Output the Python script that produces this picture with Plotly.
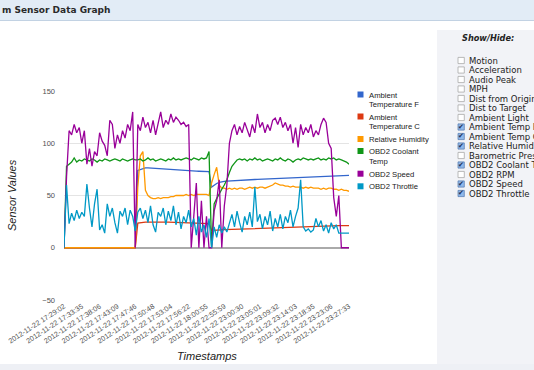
import plotly.graph_objects as go

# ---------------- data ----------------
tick_labels = [
    "2012-11-22 17:29:02", "2012-11-22 17:33:35", "2012-11-22 17:38:06",
    "2012-11-22 17:43:09", "2012-11-22 17:47:46", "2012-11-22 17:50:48",
    "2012-11-22 17:53:04", "2012-11-22 17:56:22", "2012-11-22 18:00:55",
    "2012-11-22 22:55:59", "2012-11-22 23:00:30", "2012-11-22 23:05:01",
    "2012-11-22 23:09:32", "2012-11-22 23:14:03", "2012-11-22 23:18:35",
    "2012-11-22 23:23:06", "2012-11-22 23:27:33",
]
label_step = 7

ambient_temp_f = [0] * 29 + [
    74, 75, 76, 76.5, 76.5, 76.3, 76, 75.8, 75.6, 75.4, 75.2, 75, 74.8, 74.6, 74.4,
    74.2, 74, 73.9, 73.8, 73.7, 73.6, 73.5, 73.4, 73.3, 73.2, 73.1, 73, 73, 72.9,
    58, 60, 61.5, 62.5, 63.2, 63.6, 63.8, 64, 64.1, 64.2, 64.3, 64.5, 64.6, 64.7,
    64.9, 65, 65.1, 65.3, 65.4, 65.5, 65.7, 65.8, 65.9, 66.1, 66.2, 66.3, 66.5,
    66.6, 66.7, 66.9, 67, 67.1, 67.2, 67.4, 67.5, 67.6, 67.7, 67.9, 68, 68.1, 68.2,
    68.3, 68.4, 68.5, 68.6, 68.7, 68.8, 68.8, 68.9, 69, 69, 69.1, 69.1, 69.2, 69.2,
]
ambient_temp_c = [0] * 29 + [
    23.5, 24, 24.3, 24.5, 24.6, 24.7, 24.8, 24.8, 24.8, 24.7, 24.7, 24.6, 24.5, 24.4,
    24.3, 24.2, 24.1, 24, 23.9, 23.8, 23.7, 23.6, 23.5, 23.4, 23.3, 23.2, 23.1, 23, 23,
    16.5, 16.8, 17, 17.1, 17.2, 17.3, 17.4, 17.5, 17.6, 17.7, 17.8, 17.9, 18, 18.1,
    18.2, 18.3, 18.4, 18.5, 18.6, 18.7, 18.8, 18.9, 19, 19.1, 19.2, 19.3, 19.4, 19.5,
    19.6, 19.7, 19.8, 19.9, 20, 20.1, 20.2, 20.3, 20.4, 20.5, 20.5, 20.6, 20.6, 20.7,
    20.7, 20.8, 20.8, 20.9, 20.9, 21, 21, 21, 21.1, 21.1, 21.1, 21.2, 21.2,
]
relative_humidity = [0] * 29 + [
    58, 88, 92, 55, 50, 48, 47, 47, 48, 47, 48, 48, 48, 49, 49, 50, 50, 50, 50, 51,
    50, 51, 50, 51, 51, 51, 51, 51, 50,
    62, 70, 77, 60, 57, 57, 56, 57, 56, 57, 56, 57, 57, 56, 57, 58, 57, 58, 57, 58,
    58, 57, 58, 59, 60, 62, 61, 60, 60, 59, 59, 58, 59, 58, 58, 58, 57, 58, 57, 58,
    57, 57, 57, 56, 57, 56, 57, 57, 56, 56, 55, 56, 55, 55, 54,
]
obd2_coolant_temp = [
    0, 78, 80, 82, 86, 82, 84, 83, 85, 84,
    83, 85, 84, 82, 84, 83, 85, 84, 83, 84,
    85, 84, 83, 85, 84, 83, 84, 85, 84, 84,
    85, 83, 84, 86, 84, 85, 83, 84, 85, 84,
    83, 85, 84, 86, 84, 85, 84, 85, 86, 85,
    84, 86, 85, 84, 86, 85, 86, 92, 0, 42,
    47, 52, 56, 60, 65, 72, 78, 81, 84, 85,
    84, 85, 83, 85, 84, 86, 84, 85, 83, 84,
    85, 84, 83, 85, 84, 86, 84, 83, 85, 84,
    82, 84, 85, 84, 86, 85, 84, 85, 84, 85,
    86, 84, 85, 84, 86, 85, 86, 84, 85, 84,
    83, 82, 80,
]
obd2_speed = [
    0, 68, 112, 108, 118, 110, 115, 100, 112, 80,
    95, 78, 92, 88, 110, 102, 98, 88, 122, 118,
    95, 108, 100, 112, 105, 118, 112, 130, 0, 118,
    112, 125, 115, 120, 110, 122, 108, 118, 130, 115,
    122, 118, 128, 120, 125, 122, 118, 120, 116, 118,
    0, 30, 62, 0, 45, 0, 30, 0, 0, 35,
    45, 65, 0, 40, 60, 100, 112, 118, 108, 116,
    110, 120, 112, 106, 118, 110, 128, 115, 120, 110,
    118, 112, 122, 124, 118, 125, 115, 120, 112, 118,
    100, 115, 96, 118, 108, 115, 110, 118, 106, 112,
    108, 118, 124, 120, 100, 95, 48, 30, 50, 0,
    0, 0, 0,
]
obd2_throttle = [
    0, 60, 23, 33, 26, 36, 28, 34, 30, 61,
    38, 20, 42, 56, 17, 22, 14, 42, 30, 38,
    24, 14, 35, 30, 38, 22, 36, 30, 16, 34,
    38, 28, 36, 24, 40, 22, 15, 34, 30, 38,
    22, 35, 26, 40, 22, 34, 18, 30, 24, 36,
    20, 28, 12, 30, 15, 22, 10, 28, 0, 20,
    10, 22, 14, 20, 15, 25, 32, 20, 35, 24,
    15, 30, 22, 34, 20, 58, 25, 32, 18, 30,
    22, 35, 16, 28, 20, 32, 18, 30, 24, 36,
    20, 30, 38, 65, 20, 16, 18, 15, 17, 28,
    20, 26, 16, 22, 14, 24, 18, 22, 14, 14,
    14, 14, 14,
]

series_names = ["Ambient Temperature F", "Ambient Temperature C", "Relative Humidity",
                "OBD2 Coolant Temp", "OBD2 Speed", "OBD2 Throttle"]
series_values = [ambient_temp_f, ambient_temp_c, relative_humidity,
                 obd2_coolant_temp, obd2_speed, obd2_throttle]
series_colors = ["#3366cc", "#dc3912", "#ff9900", "#109618", "#990099", "#0099c6"]

legend_lines = [["Ambient", "Temperature F"], ["Ambient", "Temperature C"],
                ["Relative Humidity"], ["OBD2 Coolant", "Temp"], ["OBD2 Speed"], ["OBD2 Throttle"]]

sidebar_items = ["Motion", "Acceleration", "Audio Peak", "MPH", "Dist from Origin",
                 "Dist to Target", "Ambient Light", "Ambient Temp F", "Ambient Temp C",
                 "Relative Humidity", "Barometric Pressure", "OBD2 Coolant Temp",
                 "OBD2 RPM", "OBD2 Speed", "OBD2 Throttle"]
sidebar_checked = [False, False, False, False, False, False, False, True, True, True,
                   False, True, False, True, True]

# ---------------- layout helpers ----------------
W, H = 534, 370
L, R, T, B = 64, 349, 91, 300


def px(x):
    return (x - L) / (R - L)


def py(y):
    return (B - y) / (B - T)


n = len(obd2_speed)
xs = list(range(n))

fig = go.Figure()
for name, vals, col in zip(series_names, series_values, series_colors):
    fig.add_trace(go.Scatter(x=xs, y=vals, mode="lines", name=name,
                             line=dict(color=col, width=1.3), showlegend=False))

shapes = []
annotations = []

# page chrome
shapes.append(dict(type="rect", xref="paper", yref="paper", x0=px(0), x1=px(W), y0=py(0), y1=py(20.5),
                   fillcolor="#e2ecf6", line=dict(width=0), layer="below"))
shapes.append(dict(type="line", xref="paper", yref="paper", x0=px(0), x1=px(W), y0=py(20.5), y1=py(20.5),
                   line=dict(color="#c2d2e3", width=1), layer="below"))
shapes.append(dict(type="rect", xref="paper", yref="paper", x0=px(437), x1=px(W), y0=py(30), y1=py(364),
                   fillcolor="#f2f3f7", line=dict(width=0), layer="below"))
shapes.append(dict(type="rect", xref="paper", yref="paper", x0=px(0), x1=px(W), y0=py(364), y1=py(H),
                   fillcolor="#eef0f5", line=dict(width=0), layer="below"))

annotations.append(dict(text="<b>m Sensor Data Graph</b>", x=px(0), y=py(10.5), xref="paper", yref="paper",
                        xanchor="left", yanchor="middle", showarrow=False,
                        font=dict(family="DejaVu Sans", size=9, color="#2a2a2a")))

# axis titles
annotations.append(dict(text="<i>Sensor Values</i>", x=px(12), y=py(195), xref="paper", yref="paper",
                        textangle=-90, showarrow=False, xanchor="center", yanchor="middle",
                        font=dict(family="Liberation Sans", size=11, color="#222")))
annotations.append(dict(text="<i>Timestamps</i>", x=px(207), y=py(356), xref="paper", yref="paper",
                        showarrow=False, xanchor="center", yanchor="middle",
                        font=dict(family="Liberation Sans", size=11, color="#222")))

# legend (Google-chart style)
leg_y = [94.5, 116.5, 139, 151, 173.7, 186.3]
for lines, col, yc in zip(legend_lines, series_colors, leg_y):
    shapes.append(dict(type="rect", xref="paper", yref="paper", x0=px(357.5), x1=px(363.5),
                       y0=py(yc - 3), y1=py(yc + 3), fillcolor=col, line=dict(width=0)))
    for k, t in enumerate(lines):
        annotations.append(dict(text=t, x=px(367), y=py(yc + 0.5 + k * 9.6), xref="paper", yref="paper",
                                xanchor="left", yanchor="middle", showarrow=False,
                                font=dict(family="Liberation Sans", size=7.7, color="#222")))

# sidebar
annotations.append(dict(text="<b><i>Show/Hide:</i></b>", x=px(460), y=py(38.5), xref="paper", yref="paper",
                        xanchor="left", yanchor="middle", showarrow=False,
                        font=dict(family="DejaVu Sans", size=8.2, color="#222")))
for k, (item, chk) in enumerate(zip(sidebar_items, sidebar_checked)):
    yc = 60.5 + k * 9.5
    if chk:
        shapes.append(dict(type="rect", xref="paper", yref="paper", x0=px(458), x1=px(464.3),
                           y0=py(yc - 3.1), y1=py(yc + 3.1), fillcolor="#8fb8ea",
                           line=dict(color="#5d82b5", width=0.8)))
        annotations.append(dict(text="✔", x=px(461.3), y=py(yc - 0.3), xref="paper", yref="paper",
                                xanchor="center", yanchor="middle", showarrow=False,
                                font=dict(family="DejaVu Sans", size=7, color="#1d2d55")))
    else:
        shapes.append(dict(type="rect", xref="paper", yref="paper", x0=px(458), x1=px(464.3),
                           y0=py(yc - 3.1), y1=py(yc + 3.1), fillcolor="#ffffff",
                           line=dict(color="#a8a8a8", width=0.8)))
    annotations.append(dict(text=item, x=px(467), y=py(yc), xref="paper", yref="paper",
                            xanchor="left", yanchor="middle", showarrow=False,
                            font=dict(family="DejaVu Sans", size=8.5, color="#222")))

fig.update_layout(
    width=W, height=H,
    margin=dict(l=L, r=W - R, t=T, b=H - B, pad=0, autoexpand=False),
    paper_bgcolor="white", plot_bgcolor="white",
    shapes=shapes, annotations=annotations,
    showlegend=False,
    xaxis=dict(range=[0, n - 1], showgrid=False, zeroline=False, showline=False, automargin=False,
               tickmode="array", tickvals=list(range(0, n, label_step)), ticktext=tick_labels,
               tickangle=-33, ticks="", tickfont=dict(family="Liberation Sans", size=7.2, color="#505050")),
    yaxis=dict(range=[-50, 150], tickvals=[-50, 0, 50, 100, 150], showgrid=True, gridcolor="#e4e4e4",
               gridwidth=1, zeroline=True, zerolinecolor="#aaaaaa", zerolinewidth=1.6, automargin=False,
               showline=False, ticks="", ticklabelstandoff=8,
               tickfont=dict(family="Liberation Sans", size=7.5, color="#505050")),
)

fig.write_html("out.html", config={"displayModeBar": False},
               post_script="document.body.style.margin='0';document.body.style.overflow='hidden';")
